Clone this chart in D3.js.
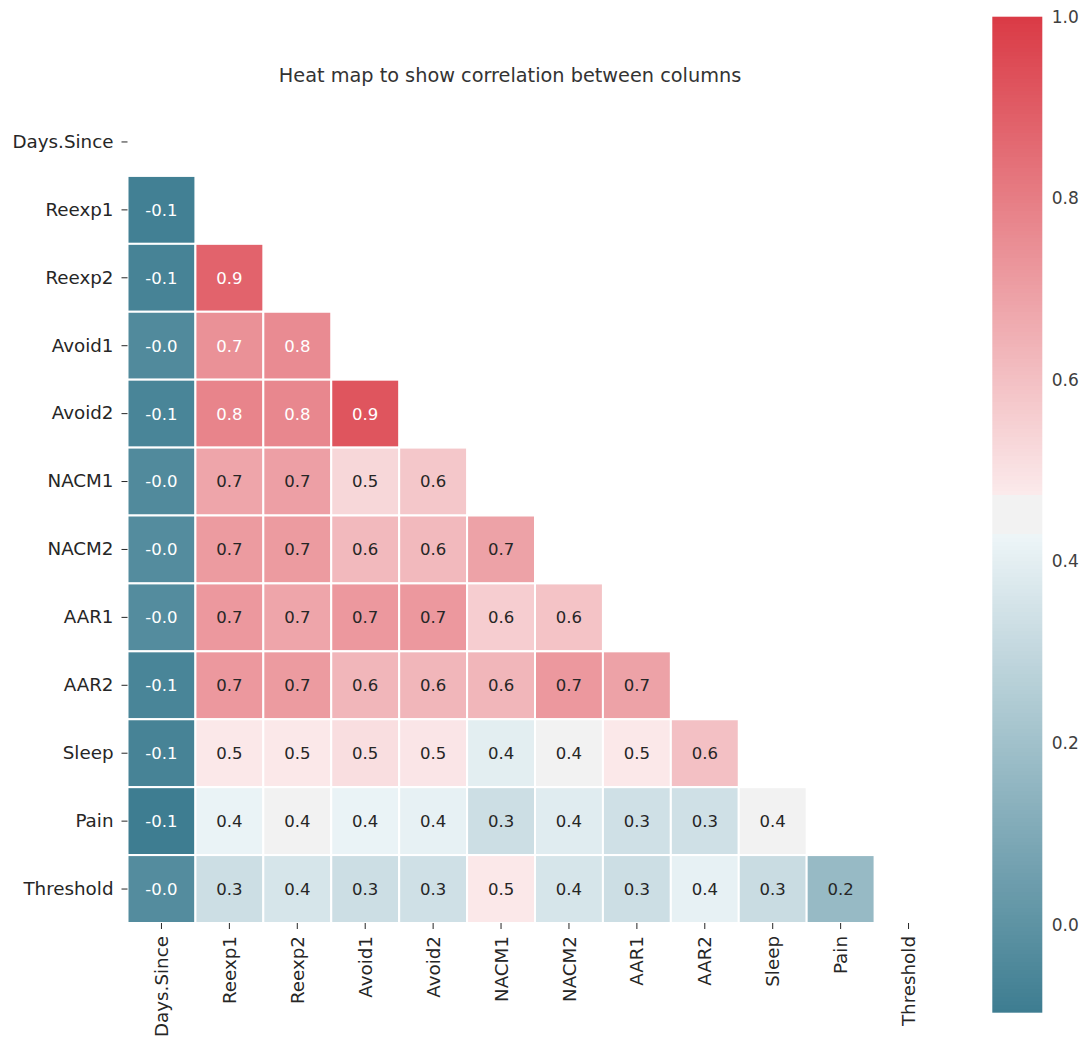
<!DOCTYPE html>
<html>
<head>
<meta charset="utf-8">
<script src="https://cdn.jsdelivr.net/npm/d3@7"></script>
<style>
  body { margin: 0; background: #ffffff; }
  svg { display: block; }
</style>
</head>
<body>
<script>
// ---- data -----------------------------------------------------------
const chartTitle = "Heat map to show correlation between columns";

const columns = ["Days.Since", "Reexp1", "Reexp2", "Avoid1", "Avoid2", "NACM1",
                 "NACM2", "AAR1", "AAR2", "Sleep", "Pain", "Threshold"];

// Lower triangle of the correlation matrix (upper half and diagonal are masked)
const rowDaysSince = [];
const rowReexp1    = [-0.08];
const rowReexp2    = [-0.07, 0.88];
const rowAvoid1    = [-0.04, 0.74, 0.76];
const rowAvoid2    = [-0.06, 0.78, 0.77, 0.92];
const rowNACM1     = [-0.04, 0.68, 0.70, 0.53, 0.58];
const rowNACM2     = [-0.03, 0.71, 0.71, 0.62, 0.62, 0.69];
const rowAAR1      = [-0.03, 0.72, 0.68, 0.72, 0.72, 0.56, 0.59];
const rowAAR2      = [-0.06, 0.72, 0.71, 0.63, 0.63, 0.63, 0.72, 0.69];
const rowSleep     = [-0.07, 0.48, 0.48, 0.51, 0.49, 0.40, 0.44, 0.48, 0.60];
const rowPain      = [-0.097, 0.42, 0.44, 0.42, 0.41, 0.33, 0.39, 0.34, 0.34, 0.44];
const rowThreshold = [-0.03, 0.33, 0.36, 0.33, 0.34, 0.48, 0.36, 0.33, 0.41, 0.32, 0.17];

const colorbarTicks = [0.0, 0.2, 0.4, 0.6, 0.8, 1.0];
const VMAX = 1.0;

// ---- setup ----------------------------------------------------------
const W = 1082, H = 1041;
const plot = { left: 127.5, top: 108, size: 815 };
const cbar = { x: 992.3, y: 16.7, w: 50, h: 996 };

const lowerRows = [rowDaysSince, rowReexp1, rowReexp2, rowAvoid1, rowAvoid2, rowNACM1,
                   rowNACM2, rowAAR1, rowAAR2, rowSleep, rowPain, rowThreshold];

const cells = [];
lowerRows.forEach((vals, i) => vals.forEach((v, j) => cells.push({ row: columns[i], col: columns[j], value: v })));

const VMIN = d3.min(cells, d => d.value);

// Diverging blue -> light gray -> red palette, 256 discrete levels
const blueEnd = d3.rgb(62, 125, 145);
const redEnd  = d3.rgb(218, 59, 70);
const lightOf = c => { const h = d3.hsl(c); return d3.hsl(h.h, h.s, 0.95).rgb(); };
const midGray = d3.rgb(242, 242, 242);
const N = 256;
const levelColor = d3.scaleLinear()
  .domain([0, 122, 123, 132, 133, 255])
  .range([blueEnd, lightOf(blueEnd), midGray, midGray, lightOf(redEnd), redEnd])
  .interpolate(d3.interpolateRgb);
const levelOf = v => Math.max(0, Math.min(N - 1, Math.floor((v - VMIN) / (VMAX - VMIN) * N)));
const colorOf = v => levelColor(levelOf(v));

function luminance(c) {
  const f = x => { x /= 255; return x <= 0.03928 ? x / 12.92 : Math.pow((x + 0.055) / 1.055, 2.4); };
  const r = d3.rgb(c);
  return 0.2126 * f(r.r) + 0.7152 * f(r.g) + 0.0722 * f(r.b);
}

const svg = d3.select("body").append("svg").attr("width", W).attr("height", H);

const x = d3.scaleBand().domain(columns).range([plot.left, plot.left + plot.size]);
const y = d3.scaleBand().domain(columns).range([plot.top, plot.top + plot.size]);

// ---- cells ----------------------------------------------------------
const cellG = svg.append("g");
cellG.selectAll("rect").data(cells).join("rect")
  .attr("x", d => x(d.col))
  .attr("y", d => y(d.row))
  .attr("width", x.bandwidth())
  .attr("height", y.bandwidth())
  .attr("fill", d => colorOf(d.value))
  .attr("stroke", "#ffffff")
  .attr("stroke-width", 2);

cellG.selectAll("text").data(cells).join("text")
  .attr("x", d => x(d.col) + x.bandwidth() / 2)
  .attr("y", d => y(d.row) + y.bandwidth() / 2)
  .attr("dy", "0.36em")
  .attr("text-anchor", "middle")
  .attr("font-family", "DejaVu Sans")
  .attr("font-size", 16.5)
  .attr("fill", d => luminance(colorOf(d.value)) > 0.408 ? "#262626" : "#ffffff")
  .text(d => d.value.toFixed(1));

// ---- axes -----------------------------------------------------------
const yAxis = svg.append("g")
  .attr("transform", `translate(${plot.left},0)`)
  .call(d3.axisLeft(y).tickSize(6).tickPadding(8));
yAxis.select(".domain").remove();
yAxis.selectAll(".tick line").attr("stroke", "#262626");
yAxis.selectAll(".tick text")
  .attr("font-family", "DejaVu Sans").attr("font-size", 18.3).attr("fill", "#262626");

const xAxis = svg.append("g")
  .attr("transform", `translate(0,${plot.top + plot.size})`)
  .call(d3.axisBottom(x).tickSize(6).tickPadding(7));
xAxis.select(".domain").remove();
xAxis.selectAll(".tick line").attr("stroke", "#262626");
xAxis.selectAll(".tick text")
  .attr("font-family", "DejaVu Sans").attr("font-size", 18.3).attr("fill", "#262626")
  .attr("transform", "rotate(-90)")
  .attr("text-anchor", "end")
  .attr("x", -13).attr("y", 0).attr("dy", "0.36em");

// ---- title ----------------------------------------------------------
svg.append("text")
  .attr("x", 510).attr("y", 82)
  .attr("text-anchor", "middle")
  .attr("font-family", "DejaVu Sans").attr("font-size", 19.3)
  .attr("fill", "#333333")
  .text(chartTitle);

// ---- colorbar -------------------------------------------------------
const defs = svg.append("defs");
const grad = defs.append("linearGradient").attr("id", "cbarGrad")
  .attr("x1", 0).attr("y1", 1).attr("x2", 0).attr("y2", 0);
d3.range(N).forEach(i => {
  grad.append("stop").attr("offset", i / N).attr("stop-color", levelColor(i));
  grad.append("stop").attr("offset", (i + 1) / N).attr("stop-color", levelColor(i));
});
svg.append("rect")
  .attr("x", cbar.x).attr("y", cbar.y).attr("width", cbar.w).attr("height", cbar.h)
  .attr("fill", "url(#cbarGrad)");

const cbY = d3.scaleLinear().domain([VMIN, VMAX]).range([cbar.y + cbar.h, cbar.y]);
const cbAxis = svg.append("g")
  .attr("transform", `translate(${cbar.x + cbar.w},0)`)
  .call(d3.axisRight(cbY).tickValues(colorbarTicks).tickFormat(d3.format(".1f")).tickSize(0).tickPadding(9.5));
cbAxis.select(".domain").remove();
cbAxis.selectAll(".tick text")
  .attr("font-family", "DejaVu Sans").attr("font-size", 17).attr("fill", "#404040");
</script>
</body>
</html>
